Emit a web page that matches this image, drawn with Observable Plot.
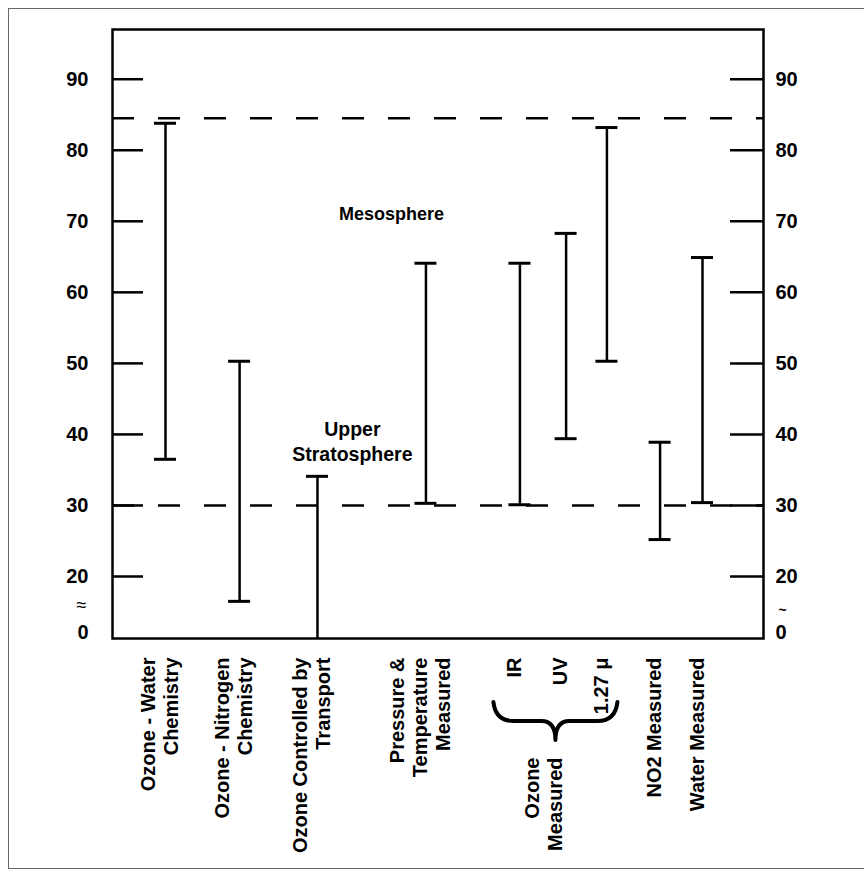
<!DOCTYPE html>
<html><head><meta charset="utf-8">
<script src="https://cdn.jsdelivr.net/npm/d3@7"></script>
<script src="https://cdn.jsdelivr.net/npm/@observablehq/plot@0.6"></script>
<style>
html,body{margin:0;padding:0;background:#fff;}
#wrap{position:relative;width:864px;height:873px;overflow:hidden;}
#page{position:absolute;left:8px;top:8px;width:900px;height:859px;border-left:1px solid #666;border-top:1px solid #666;border-bottom:1px solid #666;}
#chart{position:absolute;left:0;top:0;}
</style></head><body>
<div id="wrap"><div id="page"></div><div id="chart"></div></div>
<script>
// ---- data (altitude ranges, km) ----
const categories = ["Ozone - Water\nChemistry", "Ozone - Nitrogen\nChemistry", "Ozone Controlled by\nTransport", "Pressure &\nTemperature\nMeasured", "IR", "UV", "1.27 μ", "NO2 Measured", "Water Measured"];
const lowKm  = [36.5, 16.5, 0, 30.3, 30.1, 39.4, 50.3, 25.2, 30.4];
const highKm = [83.8, 50.3, 34.1, 64.1, 64.1, 68.3, 83.2, 38.9, 64.9];
const yTicks = [20, 30, 40, 50, 60, 70, 80, 90];
const boundaries = [84.5, 30];
const regions = ["Mesosphere", "Upper\nStratosphere"];
const regionKm = [71.3, 39.2];
const groupLabel = "Ozone\nMeasured";

// ---- layout ----
const W = 864, H = 873, frameL = 112, frameR = 763, frameT = 29, frameB = 638;
const slot = [0, 1.38, 2.83, 4.85, 6.6, 7.46, 8.22, 9.21, 10]; // column positions
const regionSlot = [4.21, 3.48];
const regionSize = [18, 19.5];
const groupSlot = 7.04;
const breakLeftKm = 15.9, breakRightKm = 15.2; // axis-break marks

const bars = categories.map((c, i) => ({label: c, lo: lowKm[i], hi: highKm[i], col: slot[i]}));
const frameW = frameR - frameL;

const plot = Plot.plot({
  width: W, height: H,
  marginLeft: frameL, marginRight: W - frameR, marginTop: frameT, marginBottom: H - frameB,
  x: {type: "linear", domain: [0, 10], range: [165, 702], axis: null},
  // broken axis: 0 sits at the bottom, linear from ~12 km upward
  y: {type: "linear", domain: [0, 12, 20, 97], range: [frameB, 632.8, 576, frameT], axis: null},
  style: {fontFamily: "'Liberation Sans', Arial, Helvetica, sans-serif", fontWeight: "bold", fontSize: "20px", color: "black", background: "transparent"},
  marks: [
    Plot.ruleY(boundaries, {y: d => d, stroke: "black", strokeWidth: 2.5, strokeDasharray: "22,24"}),
    Plot.ruleX(bars, {x: "col", y1: "lo", y2: "hi", stroke: "black", strokeWidth: 2.5}),
    Plot.ruleY(bars, {x1: "col", x2: "col", y: "hi", insetLeft: -11, insetRight: -11, stroke: "black", strokeWidth: 3}),
    Plot.ruleY(bars.filter(d => d.lo > 0), {x1: "col", x2: "col", y: "lo", insetLeft: -11, insetRight: -11, stroke: "black", strokeWidth: 3}),
    Plot.tickY(yTicks, {y: d => d, insetRight: frameW - 31, stroke: "black", strokeWidth: 2.5}),
    Plot.tickY(yTicks, {y: d => d, insetLeft: frameW - 33, stroke: "black", strokeWidth: 2.5}),
    Plot.frame({stroke: "black", strokeWidth: 2.5}),
    Plot.text(yTicks, {y: d => d, text: d => `${d}`, frameAnchor: "left", textAnchor: "end", dx: -24}),
    Plot.text(yTicks, {y: d => d, text: d => `${d}`, frameAnchor: "right", textAnchor: "start", dx: 12}),
    Plot.text([0], {y: d => d, text: d => `${d}`, frameAnchor: "left", textAnchor: "end", dx: -24, dy: -6}),
    Plot.text([0], {y: d => d, text: d => `${d}`, frameAnchor: "right", textAnchor: "start", dx: 12, dy: -6}),
    Plot.text([breakLeftKm], {y: d => d, text: d => "≈", frameAnchor: "left", textAnchor: "end", dx: -26, fontSize: 18, fontWeight: "normal"}),
    Plot.text([breakRightKm], {y: d => d, text: d => "~", frameAnchor: "right", textAnchor: "start", dx: 15, fontSize: 14}),
    Plot.text(regions, {x: (d, i) => regionSlot[i], y: (d, i) => regionKm[i], text: d => d, lineHeight: 1.3, fontSize: (d, i) => regionSize[i]}),
    Plot.text(bars, {x: "col", text: "label", frameAnchor: "bottom", rotate: -90, textAnchor: "end", lineAnchor: "middle", lineHeight: 1.15, dx: -6, dy: 19}),
    Plot.text([groupLabel], {x: () => groupSlot, text: d => d, frameAnchor: "bottom", rotate: -90, textAnchor: "end", lineAnchor: "middle", lineHeight: 1.15, dy: 119})
  ]
});

// brace under the three ozone measurements, placed through the x scale
const xs = plot.scale("x");
const L = xs.apply(slot[4]) - 26, R = xs.apply(slot[6]) + 11, M = (L + R) / 2;
const yT = frameB + 64, yMid = frameB + 83, yTip = frameB + 102;
const bracePath = `M${L},${yT} Q${L + 2},${yMid} ${L + 20},${yMid} L${M - 14},${yMid} Q${M},${yMid} ${M},${yTip}` +
  ` M${R},${yT} Q${R - 2},${yMid} ${R - 20},${yMid} L${M + 14},${yMid} Q${M},${yMid} ${M},${yTip}`;
d3.select(plot).append("path").attr("d", bracePath).attr("fill", "none").attr("stroke", "black").attr("stroke-width", 4).attr("stroke-linecap", "round");

document.getElementById("chart").appendChild(plot);
</script>
</body></html>
